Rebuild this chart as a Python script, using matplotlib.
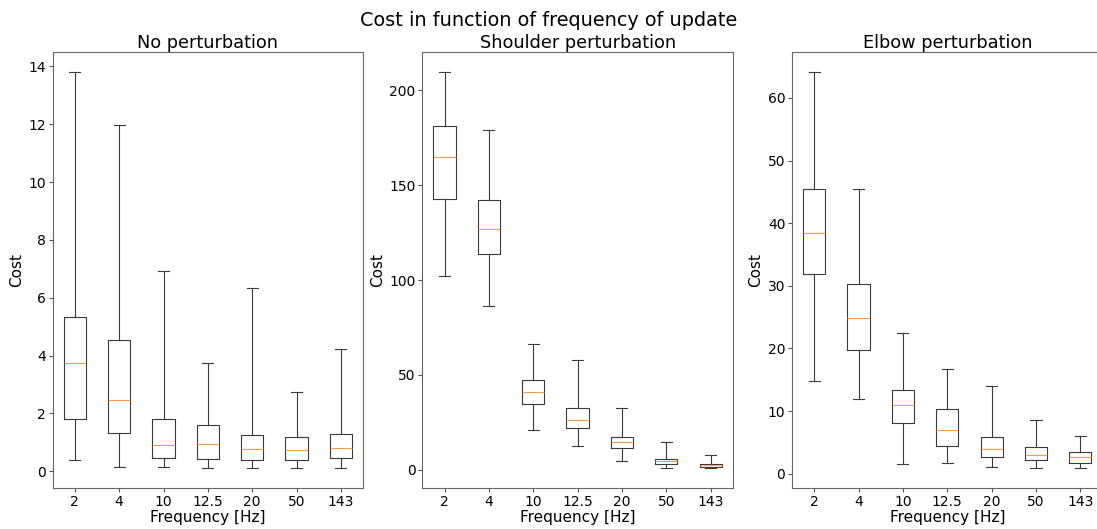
import matplotlib
matplotlib.use("Agg")
import matplotlib.pyplot as plt

freqs = ["2", "4", "10", "12.5", "20", "50", "143"]

# box statistics: whisker low, q1, median, q3, whisker high
no_pert_lo = [0.39, 0.15, 0.16, 0.13, 0.10, 0.13, 0.13]
no_pert_q1 = [1.81, 1.33, 0.47, 0.43, 0.40, 0.38, 0.45]
no_pert_med = [3.73, 2.45, 0.92, 0.96, 0.77, 0.73, 0.82]
no_pert_q3 = [5.35, 4.53, 1.80, 1.61, 1.26, 1.20, 1.29]
no_pert_hi = [13.82, 11.97, 6.93, 3.75, 6.33, 2.76, 4.23]

shoulder_lo = [102.3, 86.1, 21.0, 12.3, 4.75, 0.9, 0.7]
shoulder_q1 = [142.8, 113.9, 34.9, 22.2, 11.6, 3.2, 1.4]
shoulder_med = [164.8, 126.9, 41.2, 26.4, 14.4, 4.6, 2.3]
shoulder_q3 = [181.5, 142.1, 47.4, 32.7, 17.4, 5.8, 3.0]
shoulder_hi = [209.9, 178.9, 66.4, 57.7, 32.4, 14.8, 7.9]

elbow_lo = [14.8, 12.0, 1.6, 1.76, 1.1, 0.85, 0.85]
elbow_q1 = [31.9, 19.8, 8.05, 4.5, 2.7, 2.24, 1.7]
elbow_med = [38.5, 24.9, 10.9, 7.0, 4.0, 3.0, 2.6]
elbow_q3 = [45.5, 30.3, 13.3, 10.3, 5.9, 4.2, 3.5]
elbow_hi = [64.2, 45.4, 22.5, 16.7, 14.0, 8.6, 6.0]


def make_stats(lo, q1, med, q3, hi):
    stats = []
    for i in range(len(lo)):
        stats.append(dict(whislo=lo[i], q1=q1[i], med=med[i], q3=q3[i], whishi=hi[i]))
    return stats


panels = [
    ("No perturbation", make_stats(no_pert_lo, no_pert_q1, no_pert_med, no_pert_q3, no_pert_hi)),
    ("Shoulder perturbation", make_stats(shoulder_lo, shoulder_q1, shoulder_med, shoulder_q3, shoulder_hi)),
    ("Elbow perturbation", make_stats(elbow_lo, elbow_q1, elbow_med, elbow_q3, elbow_hi)),
]

fig = plt.figure(figsize=(10.97, 5.29), dpi=100)
lefts = [0.048, 0.385, 0.722]

lw = 0.8
line_col = "#3a3a3a"
for left, (title, stats) in zip(lefts, panels):
    ax = fig.add_axes([left, 0.077, 0.283, 0.825])
    ax.bxp(stats, showfliers=False, widths=0.5,
           boxprops=dict(linewidth=lw, color=line_col),
           whiskerprops=dict(linewidth=lw, color=line_col),
           capprops=dict(linewidth=lw, color=line_col),
           medianprops=dict(linewidth=lw, color="#ff9a40"))
    ax.set_xticks(range(1, len(freqs) + 1))
    ax.set_xticklabels(freqs)
    ax.tick_params(labelsize=10, width=lw, length=2.6, pad=2.2, color="#555555")
    for s in ax.spines.values():
        s.set_linewidth(lw)
        s.set_color("#666666")
    ax.set_title(title, fontsize=12.8, pad=3)
    ax.set_xlabel("Frequency [Hz]", fontsize=11, labelpad=1)
    ax.set_ylabel("Cost", fontsize=11, labelpad=3)

fig.suptitle("Cost in function of frequency of update", fontsize=13.9)
fig.savefig("out.png", dpi=100)
